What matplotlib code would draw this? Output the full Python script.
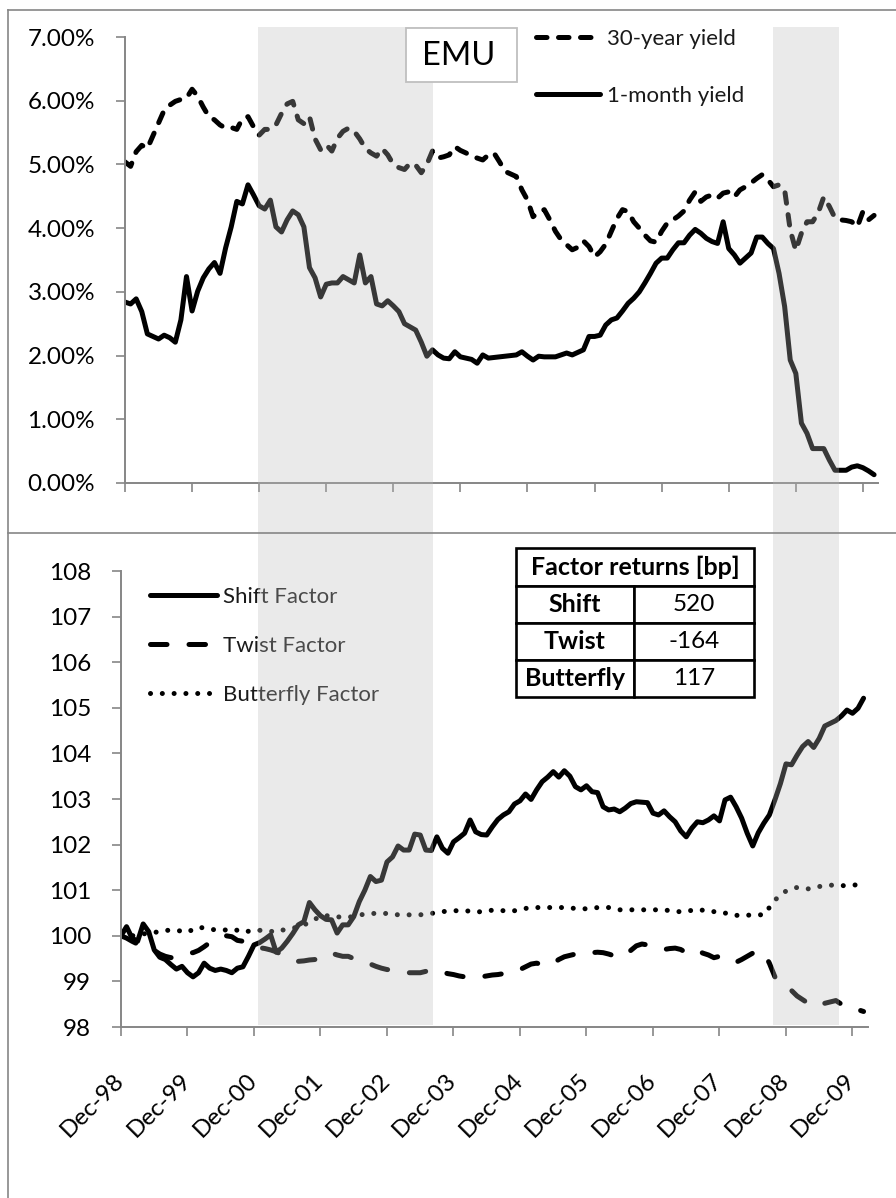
import numpy as np
import matplotlib
matplotlib.use("Agg")
import matplotlib.pyplot as plt
from matplotlib.lines import Line2D
from matplotlib.patches import Rectangle
from matplotlib.transforms import blended_transform_factory, ScaledTranslation
from matplotlib.ticker import FuncFormatter

plt.rcParams['font.family'] = ['Lato', 'DejaVu Sans']

# ---------------- data ----------------
tick_labels = ["Dec-98", "Dec-99", "Dec-00", "Dec-01", "Dec-02", "Dec-03",
               "Dec-04", "Dec-05", "Dec-06", "Dec-07", "Dec-08", "Dec-09"]
tick_months = [0, 12, 24, 36, 48, 60, 72, 84, 96, 108, 120, 132]  # months since Dec-98

yield_30y = [
    5.04, 4.97, 5.20, 5.30, 5.25, 5.45, 5.65, 5.85, 5.93, 5.99,
    6.02, 6.04, 6.18, 6.07, 5.90, 5.75, 5.70, 5.62, 5.57, 5.58,
    5.55, 5.72, 5.75, 5.59, 5.46, 5.55, 5.55, 5.62, 5.80, 5.95,
    5.99, 5.70, 5.64, 5.75, 5.40, 5.23, 5.31, 5.21, 5.41, 5.52,
    5.57, 5.52, 5.40, 5.25, 5.18, 5.13, 5.25, 5.15, 5.00, 4.95,
    4.92, 5.02, 4.99, 4.87, 5.00, 5.21, 5.10, 5.12, 5.15, 5.28,
    5.22, 5.18, 5.13, 5.10, 5.07, 5.15, 5.18, 5.04, 4.89, 4.85,
    4.81, 4.60, 4.44, 4.18, 4.25, 4.29, 4.13, 3.95, 3.82, 3.74,
    3.66, 3.70, 3.80, 3.71, 3.55, 3.63, 3.75, 3.95, 4.15, 4.29,
    4.26, 4.10, 4.00, 3.89, 3.80, 3.78, 3.95, 4.08, 4.13, 4.19,
    4.27, 4.44, 4.57, 4.42, 4.49, 4.52, 4.47, 4.55, 4.57, 4.49,
    4.60, 4.65, 4.71, 4.78, 4.84, 4.76, 4.65, 4.68, 4.60, 3.97,
    3.65, 3.92, 4.10, 4.10, 4.24, 4.49, 4.34, 4.16, 4.13, 4.12,
    4.10, 4.02, 4.26, 4.13, 4.20]

yield_1m = [
    2.84, 2.81, 2.89, 2.69, 2.34, 2.30, 2.26, 2.32, 2.28, 2.21,
    2.56, 3.24, 2.70, 3.01, 3.22, 3.36, 3.46, 3.29, 3.69, 4.02,
    4.42, 4.38, 4.68, 4.52, 4.35, 4.30, 4.44, 4.02, 3.94, 4.13,
    4.27, 4.21, 4.02, 3.38, 3.22, 2.92, 3.12, 3.14, 3.14, 3.24,
    3.19, 3.14, 3.58, 3.14, 3.24, 2.81, 2.78, 2.86, 2.78, 2.69,
    2.50, 2.45, 2.40, 2.21, 1.99, 2.09, 2.01, 1.96, 1.95, 2.06,
    1.98, 1.96, 1.94, 1.88, 2.01, 1.96, 1.97, 1.98, 1.99, 2.00,
    2.01, 2.06, 1.99, 1.93, 1.99, 1.98, 1.98, 1.98, 2.01, 2.04,
    2.01, 2.05, 2.09, 2.30, 2.30, 2.32, 2.48, 2.56, 2.59, 2.70,
    2.82, 2.90, 3.00, 3.14, 3.29, 3.45, 3.53, 3.53, 3.66, 3.77,
    3.77, 3.89, 3.98, 3.92, 3.84, 3.79, 3.76, 4.10, 3.68, 3.58,
    3.45, 3.53, 3.61, 3.86, 3.86, 3.76, 3.68, 3.29, 2.77, 1.93,
    1.72, 0.94, 0.78, 0.54, 0.54, 0.54, 0.36, 0.20, 0.20, 0.20,
    0.25, 0.27, 0.24, 0.19, 0.13]

shift_factor = [
    100.00, 100.20, 99.95, 99.88, 100.26, 100.09, 99.69, 99.53, 99.48, 99.37,
    99.27, 99.33, 99.19, 99.10, 99.19, 99.40, 99.29, 99.24, 99.27, 99.24,
    99.19, 99.29, 99.32, 99.55, 99.80, 99.85, 99.93, 100.02, 99.64, 99.73,
    99.88, 100.05, 100.24, 100.31, 100.73, 100.57, 100.44, 100.36, 100.35, 100.06,
    100.24, 100.24, 100.42, 100.75, 101.00, 101.30, 101.19, 101.22, 101.62, 101.73,
    101.97, 101.88, 101.88, 102.23, 102.21, 101.88, 101.87, 102.17, 101.92, 101.81,
    102.06, 102.15, 102.25, 102.54, 102.28, 102.22, 102.21, 102.39, 102.55, 102.65,
    102.72, 102.89, 102.96, 103.11, 102.99, 103.20, 103.38, 103.48, 103.60, 103.48,
    103.62, 103.50, 103.27, 103.20, 103.29, 103.16, 103.14, 102.83, 102.76, 102.78,
    102.72, 102.80, 102.90, 102.94, 102.93, 102.92, 102.69, 102.65, 102.74, 102.61,
    102.50, 102.30, 102.17, 102.36, 102.50, 102.48, 102.54, 102.63, 102.52, 102.98,
    103.04, 102.83, 102.58, 102.25, 101.97, 102.26, 102.47, 102.65, 102.98, 103.34,
    103.77, 103.75, 103.96, 104.15, 104.26, 104.13, 104.33, 104.60, 104.66, 104.72,
    104.82, 104.95, 104.88, 104.99, 105.21]

twist_factor = [
    100.00, 99.95, 99.88, 99.82, 99.76, 99.72, 99.68, 99.60, 99.55, 99.52,
    99.55, 99.60, 99.62, 99.63, 99.68, 99.76, 99.85, 99.92, 99.95, 100.00,
    99.98, 99.90, 99.88, 99.82, 99.77, 99.74, 99.72, 99.69, 99.65, 99.59,
    99.55, 99.50, 99.44, 99.45, 99.47, 99.48, 99.52, 99.60, 99.62, 99.58,
    99.55, 99.55, 99.50, 99.45, 99.40, 99.38, 99.33, 99.29, 99.26, 99.25,
    99.22, 99.20, 99.19, 99.19, 99.19, 99.22, 99.26, 99.24, 99.20, 99.17,
    99.15, 99.12, 99.10, 99.08, 99.09, 99.10, 99.12, 99.14, 99.15, 99.17,
    99.19, 99.21, 99.26, 99.32, 99.38, 99.40, 99.37, 99.34, 99.40, 99.48,
    99.54, 99.57, 99.60, 99.63, 99.65, 99.63, 99.64, 99.63, 99.60, 99.56,
    99.53, 99.58, 99.68, 99.78, 99.82, 99.80, 99.75, 99.71, 99.70, 99.72,
    99.73, 99.70, 99.63, 99.70, 99.68, 99.62, 99.58, 99.52, 99.55, 99.46,
    99.45, 99.42, 99.48, 99.55, 99.62, 99.65, 99.63, 99.40, 99.10, 99.00,
    98.90, 98.80, 98.68, 98.60, 98.52, 98.45, 98.48, 98.52, 98.55, 98.58,
    98.50, 98.43, 98.41, 98.38, 98.34]

butterfly_factor = [
    100.00, 100.00, 100.00, 100.02, 100.04, 100.06, 100.07, 100.10, 100.12, 100.12,
    100.12, 100.10, 100.08, 100.14, 100.19, 100.17, 100.15, 100.13, 100.12, 100.13,
    100.15, 100.12, 100.08, 100.10, 100.12, 100.12, 100.12, 100.10, 100.08, 100.12,
    100.15, 100.17, 100.19, 100.24, 100.29, 100.36, 100.44, 100.44, 100.44, 100.42,
    100.40, 100.41, 100.42, 100.45, 100.48, 100.49, 100.49, 100.49, 100.49, 100.48,
    100.46, 100.46, 100.46, 100.46, 100.46, 100.48, 100.49, 100.51, 100.53, 100.54,
    100.55, 100.55, 100.55, 100.54, 100.52, 100.53, 100.55, 100.56, 100.57, 100.55,
    100.53, 100.55, 100.57, 100.60, 100.62, 100.62, 100.62, 100.62, 100.62, 100.62,
    100.62, 100.61, 100.60, 100.60, 100.59, 100.60, 100.62, 100.62, 100.62, 100.60,
    100.57, 100.57, 100.57, 100.57, 100.57, 100.57, 100.57, 100.57, 100.57, 100.55,
    100.53, 100.53, 100.53, 100.56, 100.58, 100.56, 100.53, 100.53, 100.53, 100.50,
    100.46, 100.45, 100.44, 100.45, 100.46, 100.46, 100.46, 100.62, 100.78, 100.90,
    100.98, 101.03, 101.06, 101.05, 101.03, 101.05, 101.08, 101.10, 101.11, 101.11,
    101.10, 101.10, 101.11, 101.12, 101.12]

factor_names = ["Shift", "Twist", "Butterfly"]
factor_returns = [520, -164, 117]

# shaded periods, in months since Dec-98
shade_periods = [(23.8, 55.1), (115.9, 127.7)]

# ---------------- figure ----------------
W, H = 896, 1198
fig = plt.figure(figsize=(W / 100, H / 100), dpi=100)


def fx(px):
    return px / W


def fy(py):
    return 1 - py / H


GRAY = '#868686'
TXT = '#1a1a1a'

ax1 = fig.add_axes([fx(125), fy(483), fx(878) - fx(125), fy(37) - fy(483)])
ax2 = fig.add_axes([fx(121), fy(1027), fx(868) - fx(121), fy(571) - fy(1027)])

for ax in (ax1, ax2):
    ax.set_facecolor('none')
    for s in ('top', 'right'):
        ax.spines[s].set_visible(False)
    for s in ('left', 'bottom'):
        ax.spines[s].set_color(GRAY)
        ax.spines[s].set_linewidth(1.4)
    ax.tick_params(axis='both', direction='out', length=6.5, width=1.2,
                   color=GRAY, labelcolor='black', labelsize=17.5)
    ax.tick_params(axis='y', pad=15)

LW = 3.6
m1 = np.arange(len(yield_1m))
m2 = np.arange(len(yield_30y))
ax1.plot(m2, yield_30y, color='black', lw=LW, dashes=(2.1, 2.3),
         dash_capstyle='round', solid_joinstyle='round', label='30-year yield')
ax1.plot(m1, yield_1m, color='black', lw=LW, solid_joinstyle='round',
         solid_capstyle='round', label='1-month yield')
ax1.set_xlim(0, 134.7)
ax1.set_ylim(0, 7)
ax1.set_yticks(np.arange(0, 8))
ax1.yaxis.set_major_formatter(FuncFormatter(lambda v, p: f"{v:.2f}%"))
ax1.set_xticks(tick_months)
ax1.set_xticklabels([])

leg1 = ax1.legend(loc='upper left', bbox_to_anchor=(fx(536), fy(29)),
                  bbox_transform=fig.transFigure, frameon=False, fontsize=16,
                  handlelength=2.9, handletextpad=0.3, labelspacing=1.67,
                  borderpad=0, borderaxespad=0)
for t in leg1.get_texts():
    t.set_color(TXT)

mm = np.arange(len(shift_factor))
ax2.plot(mm, shift_factor, color='black', lw=LW, solid_joinstyle='round',
         solid_capstyle='round', label='Shift Factor')
ax2.plot(np.arange(len(twist_factor)), twist_factor, color='black', lw=LW,
         dashes=(3.3, 4.4), dash_capstyle='round', label='Twist Factor')
ax2.plot(np.arange(len(butterfly_factor)), butterfly_factor, color='black', lw=LW,
         dashes=(0.01, 2.35), dash_capstyle='round', label='Butterfly Factor')
ax2.set_xlim(0, 134.8)
ax2.set_ylim(98, 108)
ax2.set_yticks(np.arange(98, 109))
ax2.set_xticks(tick_months)
ax2.set_xticklabels(tick_labels, rotation=45, ha='right', va='top')
ax2.tick_params(axis='x', pad=24)
offset = ScaledTranslation(0.07, 0, fig.dpi_scale_trans)
for lab in ax2.get_xticklabels():
    lab.set_transform(lab.get_transform() + offset)

leg2 = ax2.legend(loc='upper left', bbox_to_anchor=(fx(150), fy(587)),
                  bbox_transform=fig.transFigure, frameon=False, fontsize=16,
                  handlelength=3.0, handletextpad=0.3, labelspacing=1.3,
                  borderpad=0, borderaxespad=0)
for t in leg2.get_texts():
    t.set_color(TXT)

# table of factor returns
def to_ax2(px, py):
    return (px - 121) / (868 - 121), (1027 - py) / (1027 - 571)


x0, yb = to_ax2(516, 697)
x1, yh = to_ax2(754, 586)
_, yt = to_ax2(754, 548)
header = ax2.table(cellText=[["Factor returns [bp]"]], cellLoc='center',
                   bbox=[x0, yh, x1 - x0, yt - yh])
body = ax2.table(cellText=[[n, str(v)] for n, v in zip(factor_names, factor_returns)],
                 cellLoc='center', colWidths=[118 / 238, 120 / 238],
                 bbox=[x0, yb, x1 - x0, yh - yb])
for tbl in (header, body):
    tbl.auto_set_font_size(False)
    for (r, c), cell in tbl.get_celld().items():
        cell.set_linewidth(1.9)
        cell.set_edgecolor('black')
        cell.set_facecolor('white')
        cell.get_text().set_color('black')
        if tbl is header or c == 0:
            cell.get_text().set_fontweight('bold')
            cell.get_text().set_fontsize(18)
        else:
            cell.get_text().set_fontsize(17.5)

# shaded periods (overlay spanning both panels)
trans = blended_transform_factory(ax1.transData, fig.transFigure)
for a, b in shade_periods:
    fig.add_artist(Rectangle((a, fy(1025)), b - a, fy(27) - fy(1025),
                             transform=trans, facecolor='#BBBBBB', alpha=0.3,
                             edgecolor='none', zorder=3))

# EMU box
fig.add_artist(Rectangle((fx(406), fy(82)), fx(517) - fx(406), fy(28) - fy(82),
                         transform=fig.transFigure, facecolor='white',
                         edgecolor='#bfbfbf', lw=1.3, zorder=5))
fig.text(fx(459), fy(56), "EMU", ha='center', va='center', fontsize=23.5,
         color='black', zorder=6)

# chart frames
for xs, ys in [((8, 8), (10, H)), ((8, W), (10, 10)), ((8, W), (533, 533))]:
    fig.add_artist(Line2D([fx(v) for v in xs], [fy(v) for v in ys],
                          transform=fig.transFigure, color=GRAY, lw=1.2, zorder=4))

fig.savefig("out.png", dpi=100)
